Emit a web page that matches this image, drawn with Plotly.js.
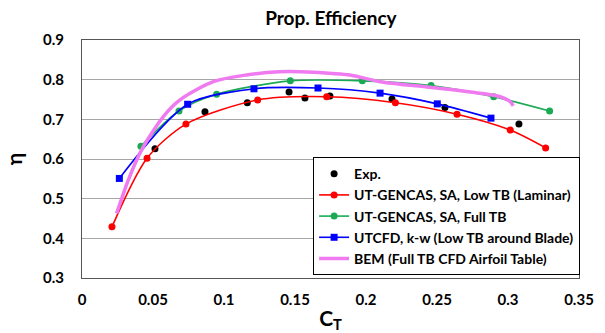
<!DOCTYPE html>
<html><head><meta charset="utf-8">
<script src="https://cdn.plot.ly/plotly-3.0.1.min.js"></script>
<style>html,body{margin:0;padding:0;background:#fff}#chart{width:605px;height:333px}</style>
</head><body><div id="chart"></div>
<script>
const expCT = [0.0514, 0.0866, 0.1164, 0.1458, 0.157, 0.1746, 0.2183, 0.2556, 0.3077];
const expEta = [0.626, 0.719, 0.742, 0.769, 0.754, 0.759, 0.751, 0.730, 0.688];

const lowCT = [0.0211, 0.0458, 0.0732, 0.1237, 0.1723, 0.2207, 0.2641, 0.3016, 0.3265];
const lowEta = [0.429, 0.602, 0.688, 0.749, 0.757, 0.742, 0.713, 0.673, 0.628];

const fullCT = [0.0415, 0.0683, 0.0948, 0.1467, 0.1974, 0.2458, 0.2899, 0.3293];
const fullEta = [0.632, 0.721, 0.763, 0.797, 0.797, 0.785, 0.757, 0.721];

const kwCT = [0.0263, 0.0744, 0.1211, 0.1662, 0.2099, 0.2502, 0.288];
const kwEta = [0.551, 0.738, 0.777, 0.779, 0.766, 0.739, 0.703];

const bemCT = [0.0244, 0.0326, 0.042, 0.0573, 0.069, 0.0925, 0.116, 0.139, 0.163, 0.1746, 0.1887, 0.2099, 0.245, 0.2803, 0.2944, 0.3014, 0.3037];
const bemEta = [0.463, 0.547, 0.623, 0.707, 0.749, 0.795, 0.812, 0.820, 0.819, 0.816, 0.812, 0.795, 0.781, 0.766, 0.757, 0.745, 0.734];

const xTicks = [0, 0.05, 0.1, 0.15, 0.2, 0.25, 0.3, 0.35];
const xTickText = ['0', '0.05', '0.1', '0.15', '0.2', '0.25', '0.3', '0.35'];
const yTicks = [0.3, 0.4, 0.5, 0.6, 0.7, 0.8, 0.9];
const yTickText = ['0.3', '0.4', '0.5', '0.6', '0.7', '0.8', '0.9'];

const names = ['Exp.', 'UT-GENCAS, SA, Low TB (Laminar)', 'UT-GENCAS, SA, Full TB', 'UTCFD, k-w (Low TB around Blade)', 'BEM (Full TB CFD Airfoil Table)'];

const traces = [
  {x: expCT, y: expEta, name: names[0], mode: 'markers', type: 'scatter',
   marker: {color: '#000000', size: 7, symbol: 'circle'}},
  {x: lowCT, y: lowEta, name: names[1], mode: 'lines+markers', type: 'scatter',
   line: {color: '#ff0000', width: 1.6, shape: 'spline', smoothing: 0.8},
   marker: {color: '#ff0000', size: 7, symbol: 'circle'}},
  {x: fullCT, y: fullEta, name: names[2], mode: 'lines+markers', type: 'scatter',
   line: {color: '#1aaa55', width: 1.6, shape: 'spline', smoothing: 0.8},
   marker: {color: '#1aaa55', size: 7, symbol: 'circle'}},
  {x: kwCT, y: kwEta, name: names[3], mode: 'lines+markers', type: 'scatter',
   line: {color: '#0000ff', width: 1.6, shape: 'spline', smoothing: 0.8},
   marker: {color: '#0000ff', size: 7, symbol: 'square'}},
  {x: bemCT, y: bemEta, name: names[4], mode: 'lines', type: 'scatter',
   line: {color: '#f07af0', width: 3.5, shape: 'spline', smoothing: 0.8}}
];

const fontFam = 'Lato, "Open Sans", "Liberation Sans", Arial, sans-serif';

const layout = {
  width: 605, height: 333,
  margin: {l: 82, r: 26, t: 40, b: 55},
  paper_bgcolor: '#ffffff', plot_bgcolor: '#ffffff',
  font: {family: fontFam, color: '#000000', size: 15, weight: 'bold'},
  title: {text: '<b>Prop. Efficiency</b>', x: 0.547, xanchor: 'center', y: 0.945, yanchor: 'middle',
          font: {family: fontFam, size: 19, color: '#000'}},
  xaxis: {
    range: [0, 0.35], tickvals: xTicks, ticktext: xTickText,
    showgrid: false, zeroline: false, showline: true, linecolor: '#555', linewidth: 1, mirror: true,
    ticks: '', ticklen: 0, ticklabelstandoff: 8, tickfont: {size: 15, family: fontFam, weight: 'bold'},
    title: {text: '<b>C<sub>T</sub></b>', font: {size: 21, family: fontFam}, standoff: 4}
  },
  yaxis: {
    range: [0.3, 0.9], tickvals: yTicks, ticktext: yTickText,
    showgrid: true, gridcolor: '#a6a6a6', gridwidth: 1, zeroline: false,
    showline: true, linecolor: '#555', linewidth: 1, mirror: true,
    ticks: '', ticklabelstandoff: 14, tickfont: {size: 15, family: fontFam, weight: 'bold'},
    title: {text: '<b>η</b>', font: {size: 21, family: fontFam}, standoff: 14}
  },
  showlegend: true,
  legend: {x: 0.465, xanchor: 'left', y: 0.508, yanchor: 'top',
           bgcolor: '#ffffff', bordercolor: '#000000', borderwidth: 1,
           font: {size: 14, family: fontFam, weight: 'bold'}, tracegroupgap: 0, itemwidth: 30}
};

Plotly.newPlot('chart', traces, layout, {displayModeBar: false, staticPlot: true});
</script></body></html>
